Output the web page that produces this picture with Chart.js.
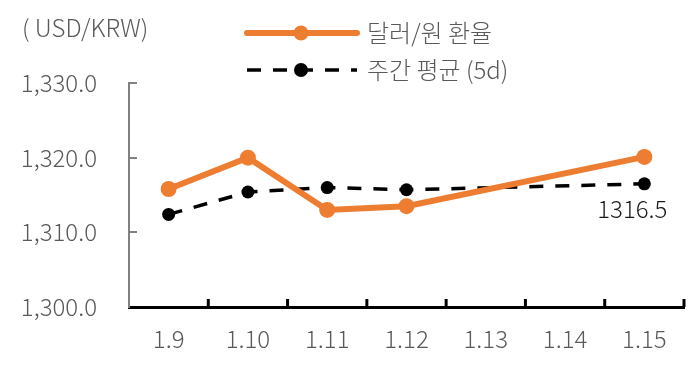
<!DOCTYPE html>
<html>
<head>
<meta charset="utf-8">
<script src="https://cdn.jsdelivr.net/npm/chart.js@4.4.0/dist/chart.umd.min.js"></script>
<style>
  html, body { margin: 0; padding: 0; background: #fff; }
  #wrap { width: 694px; height: 365px; position: relative; }
</style>
</head>
<body>
<div id="wrap"><canvas id="fxChart" width="694" height="365"></canvas></div>
<script>
// --- dados do gráfico ---
const categories = ['1.9', '1.10', '1.11', '1.12', '1.13', '1.14', '1.15'];
const rateValues = [1315.8, 1320.0, 1313.0, 1313.5, null, null, 1320.1];
const avgValues = [1312.4, 1315.4, 1316.0, 1315.7, null, null, 1316.5];
const seriesNames = ['달러/원 환율', '주간 평균 (5d)'];
const yTicks = [1300, 1310, 1320, 1330];
const unitLabel = '( USD/KRW)';

const ORANGE = '#ED7D31';
const TEXT = '#595959';
const FONT = "'Noto Sans CJK KR', 'Noto Sans', sans-serif";
const FSIZE = 24;

// legenda, unidade, marcas internas e rótulo do último ponto
const decorations = {
    id: 'decorations',
    afterDraw(chart) {
        const c = chart.ctx;
        const x = chart.scales.x, y = chart.scales.y;
        c.save();

        // marcas do eixo Y (para dentro)
        c.strokeStyle = '#808080';
        c.lineWidth = 2;
        yTicks.slice(1).forEach(v => {
            const py = Math.round(y.getPixelForValue(v));
            c.beginPath();
            c.moveTo(y.right, py);
            c.lineTo(y.right + 8, py);
            c.stroke();
        });

        // marcas do eixo X (entre categorias, para cima)
        c.strokeStyle = '#000';
        c.lineWidth = 3;
        const step = (x.right - x.left) / categories.length;
        for (let i = 1; i <= categories.length; i++) {
            const px = x.left + step * i;
            c.beginPath();
            c.moveTo(px, x.top);
            c.lineTo(px, x.top - 8);
            c.stroke();
        }

        // unidade
        c.fillStyle = TEXT;
        c.font = `300 ${FSIZE}px ${FONT}`;
        c.textBaseline = 'middle';
        c.textAlign = 'left';
        c.fillText(unitLabel, 22, 28);

        // legenda
        const lx0 = 247, lx1 = 357, tx = 367;
        chart.data.datasets.forEach((ds, i) => {
            const ly = i === 0 ? 33 : 70;
            c.strokeStyle = ds.borderColor;
            c.lineWidth = ds.borderWidth;
            c.lineCap = i === 0 ? 'round' : 'butt';
            c.setLineDash(ds.borderDash || []);
            c.beginPath();
            c.moveTo(lx0, ly);
            c.lineTo(lx1, ly);
            c.stroke();
            c.setLineDash([]);
            c.fillStyle = ds.pointBackgroundColor;
            c.beginPath();
            c.arc(301, ly, i === 0 ? 7.5 : 7, 0, Math.PI * 2);
            c.fill();
            c.fillStyle = TEXT;
            c.font = `300 ${FSIZE}px ${FONT}`;
            c.fillText(ds.label, tx, ly);
        });

        // rótulo do último ponto da média
        const meta = chart.getDatasetMeta(1);
        const last = avgValues.length - 1;
        const pt = meta.data[last];
        c.fillStyle = '#1a1a1a';
        c.font = `300 ${FSIZE}px ${FONT}`;
        c.textAlign = 'center';
        c.fillText(avgValues[last].toFixed(1), pt.x - 12, pt.y + 25);

        c.restore();
    }
};

const ctx = document.getElementById('fxChart').getContext('2d');
const chart = new Chart(ctx, {
    type: 'line',
    data: {
        labels: categories,
        datasets: [{
            label: seriesNames[0],
            data: rateValues,
            borderColor: ORANGE,
            backgroundColor: ORANGE,
            pointBackgroundColor: ORANGE,
            pointBorderColor: ORANGE,
            borderWidth: 6,
            pointRadius: 8,
            pointBorderWidth: 0,
            spanGaps: true,
            tension: 0
        }, {
            label: seriesNames[1],
            data: avgValues,
            borderColor: '#000',
            backgroundColor: '#000',
            pointBackgroundColor: '#000',
            pointBorderColor: '#000',
            borderWidth: 3.5,
            borderDash: [14, 12],
            pointRadius: 6.5,
            pointBorderWidth: 0,
            spanGaps: true,
            tension: 0
        }]
    },
    options: {
        responsive: false,
        animation: false,
        layout: { padding: { top: 83, right: 10, left: 0, bottom: 0 } },
        plugins: {
            legend: { display: false },
            tooltip: { enabled: false }
        },
        scales: {
            x: {
                offset: true,
                grid: { display: false },
                border: { display: true, color: '#000', width: 3 },
                ticks: { color: TEXT, font: { family: FONT, size: FSIZE, weight: '300' }, padding: 9 },
                afterFit(s) { s.height = 58; }
            },
            y: {
                min: 1300,
                max: 1330,
                afterBuildTicks(s) { s.ticks = yTicks.map(v => ({ value: v })); },
                grid: { display: false },
                border: { display: true, color: '#808080', width: 2 },
                ticks: {
                    color: TEXT,
                    font: { family: FONT, size: FSIZE, weight: '300' },
                    padding: 24,
                    callback: v => v.toLocaleString('en-US', { minimumFractionDigits: 1, maximumFractionDigits: 1 })
                },
                afterFit(s) { s.width = 129; }
            }
        }
    },
    plugins: [decorations]
});
</script>
</body>
</html>
